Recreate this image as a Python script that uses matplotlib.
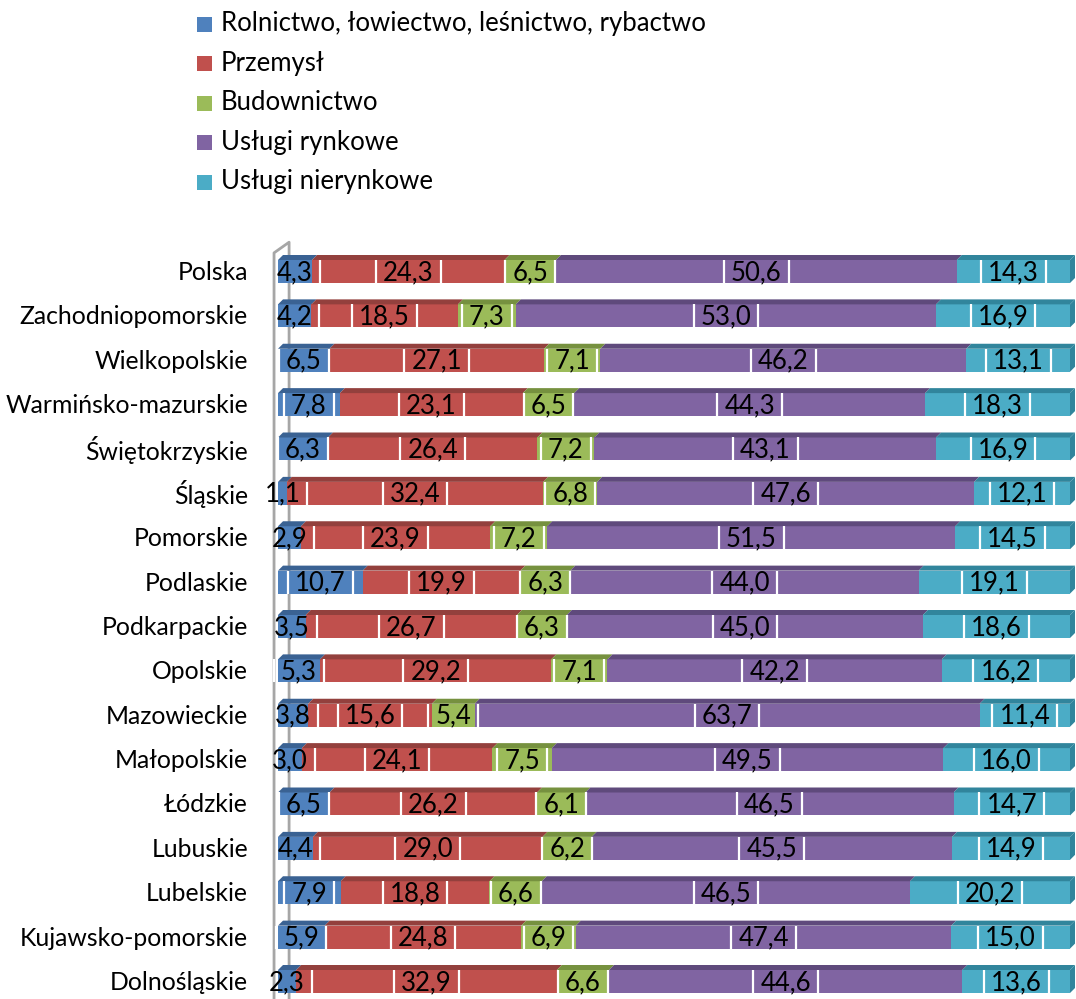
import numpy as np
import matplotlib.pyplot as plt
from matplotlib.patches import Rectangle, Polygon

plt.rcParams['font.family'] = ['Lato', 'DejaVu Sans']

# data (% share of gross value added)
regions = ['Polska', 'Zachodniopomorskie', 'Wielkopolskie', 'Warmińsko-mazurskie',
           'Świętokrzyskie', 'Śląskie', 'Pomorskie', 'Podlaskie', 'Podkarpackie',
           'Opolskie', 'Mazowieckie', 'Małopolskie', 'Łódzkie', 'Lubuskie',
           'Lubelskie', 'Kujawsko-pomorskie', 'Dolnośląskie']
series = ['Rolnictwo, łowiectwo, leśnictwo, rybactwo', 'Przemysł', 'Budownictwo',
          'Usługi rynkowe', 'Usługi nierynkowe']
rolnictwo = [4.3, 4.2, 6.5, 7.8, 6.3, 1.1, 2.9, 10.7, 3.5, 5.3, 3.8, 3.0, 6.5, 4.4, 7.9, 5.9, 2.3]
przemysl = [24.3, 18.5, 27.1, 23.1, 26.4, 32.4, 23.9, 19.9, 26.7, 29.2, 15.6, 24.1, 26.2, 29.0, 18.8, 24.8, 32.9]
budownictwo = [6.5, 7.3, 7.1, 6.5, 7.2, 6.8, 7.2, 6.3, 6.3, 7.1, 5.4, 7.5, 6.1, 6.2, 6.6, 6.9, 6.6]
uslugi_rynk = [50.6, 53.0, 46.2, 44.3, 43.1, 47.6, 51.5, 44.0, 45.0, 42.2, 63.7, 49.5, 46.5, 45.5, 46.5, 47.4, 44.6]
uslugi_nierynk = [14.3, 16.9, 13.1, 18.3, 16.9, 12.1, 14.5, 19.1, 18.6, 16.2, 11.4, 16.0, 14.7, 14.9, 20.2, 15.0, 13.6]

colors = ['#4F81BD', '#C0504D', '#9BBB59', '#8064A2', '#4BACC6']
tops = ['#3A6293', '#93403D', '#76913F', '#5F4A7C', '#31859C']

W, H = 1076, 999
fig = plt.figure(figsize=(W / 100, H / 100), dpi=100)

# axes: x 0..100 -> px 278..1070, rows spaced 44.375 px, first row centre at 271.5 px
row_px, first_px = 44.375, 271.5
ax = fig.add_axes([278 / W, 0, 792 / W, 1])
ax.set_xlim(0, 100)
ax.set_ylim((H - first_px) / row_px, -first_px / row_px)
ax.axis('off')

data = np.array([rolnictwo, przemysl, budownictwo, uslugi_rynk, uslugi_nierynk])
pct = data / data.sum(axis=0) * 100
left = np.vstack([np.zeros(len(regions)), np.cumsum(pct, axis=0)[:-1]])

face_h = 23 / row_px      # front face height
top_h = 5 / row_px        # top face height
dx = 5 / 7.92             # depth offset in x

# left wall lines (3d frame)
ax.plot([-0.5, -0.5, 1.4, 1.4], [17, -0.42, -0.66, 17], color='#A6A6A6', lw=2,
        clip_on=False, zorder=0)

labels = []
for i, reg in enumerate(regions):
    y0 = i - face_h / 2
    for s in range(5):
        l, w = left[s, i], pct[s, i]
        ax.add_patch(Rectangle((l, y0), w, face_h, fc=colors[s], ec='none', zorder=2))
        ax.add_patch(Polygon([(l, y0), (l + dx, y0 - top_h), (l + w + dx, y0 - top_h), (l + w, y0)],
                             closed=True, fc=tops[s], ec='none', zorder=2, clip_on=False))
        if s == 4:
            ax.add_patch(Polygon([(l + w, y0), (l + w + dx, y0 - top_h),
                                  (l + w + dx, y0 + face_h - top_h), (l + w, y0 + face_h)],
                                 closed=True, fc=tops[s], ec='none', zorder=2, clip_on=False))
        t = ax.text(l + w / 2, i + 0.02, f'{data[s, i]:.1f}'.replace('.', ','),
                    ha='center', va='center', fontsize=18.5, zorder=5, clip_on=False)
        labels.append((t, i))
    ax.text(-30 / 7.92, i + 0.02, reg, ha='right', va='center', fontsize=17.8, clip_on=False)

# white frames around data labels
fig.canvas.draw()
inv = ax.transData.inverted()
for t, i in labels:
    bb = t.get_window_extent()
    xa = inv.transform((bb.x0 - 7, 0))[0]
    xb = inv.transform((bb.x1 + 7, 0))[0]
    ax.vlines([xa, xb], i - face_h / 2, i + face_h / 2, colors='white', lw=1.6, zorder=4,
              clip_on=False)

# legend
for k, name in enumerate(series):
    yc = 24 + k * 39.5
    fig.add_artist(Rectangle((197 / W, 1 - (yc + 7.5) / H), 15 / W, 15 / H,
                             transform=fig.transFigure, fc=colors[k], ec='none'))
    fig.text(221 / W, 1 - yc / H, name, ha='left', va='center', fontsize=18.5)

fig.savefig('out.png', dpi=100)
